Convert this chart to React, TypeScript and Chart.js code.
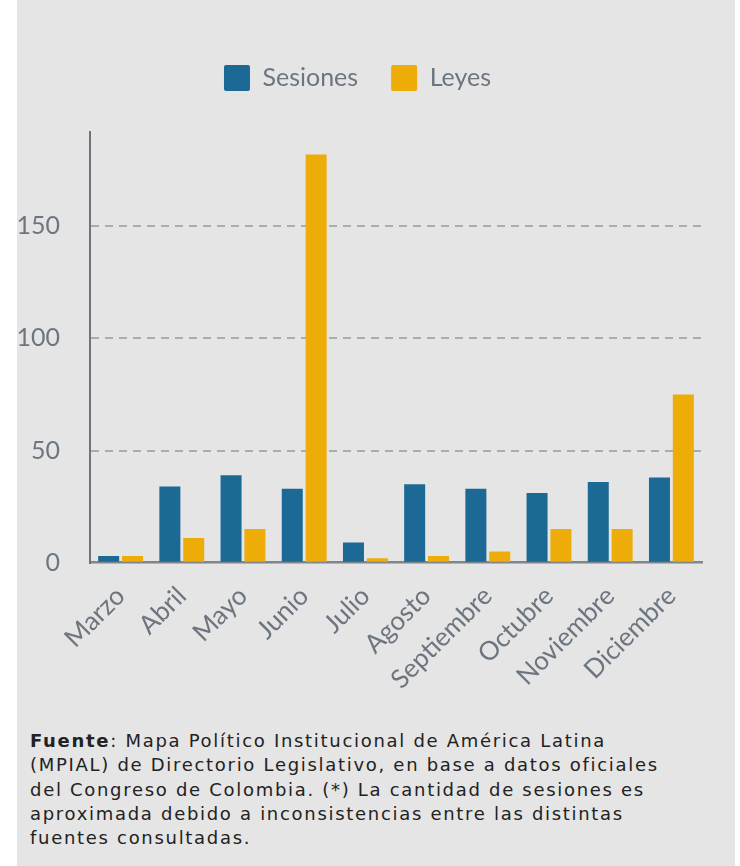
import React, { useEffect, useRef } from "react";
import { Chart, registerables } from "chart.js";

Chart.register(...registerables);

const months = [
  "Marzo",
  "Abril",
  "Mayo",
  "Junio",
  "Julio",
  "Agosto",
  "Septiembre",
  "Octubre",
  "Noviembre",
  "Diciembre",
];
const sesiones = [3, 34, 39, 33, 9, 35, 33, 31, 36, 38];
const leyes = [3, 11, 15, 182, 2, 3, 5, 15, 15, 75];
const yTickValues = [0, 50, 100, 150];
const yMax = 192;

const BLUE = "#1d6996";
const YELLOW = "#edac08";
const TEXT_GRAY = "#6d7680";

const legendSpacer = {
  id: "legendSpacer",
  beforeInit(chart: any) {
    const legend = chart.legend;
    if (!legend) return;
    const origFit = legend.fit;
    legend.fit = function () {
      origFit.call(this);
      this.height += 31;
    };
  },
  afterLayout(chart: any) {
    const legend = chart.legend;
    if (!legend) return;
    legend.left -= 2;
    legend.right -= 2;
  },
};

export default function App() {
  const canvasRef = useRef<HTMLCanvasElement | null>(null);

  useEffect(() => {
    const canvas = canvasRef.current;
    if (!canvas) return;
    const chart = new Chart(canvas, {
      type: "bar",
      data: {
        labels: months,
        datasets: [
          {
            label: "Sesiones",
            data: sesiones,
            backgroundColor: BLUE,
            borderWidth: 0,
            barPercentage: 0.88,
            categoryPercentage: 0.78,
          },
          {
            label: "Leyes",
            data: leyes,
            backgroundColor: YELLOW,
            borderWidth: 0,
            barPercentage: 0.88,
            categoryPercentage: 0.78,
          },
        ],
      },
      plugins: [legendSpacer],
      options: {
        animation: false,
        responsive: false,
        maintainAspectRatio: false,
        devicePixelRatio: 1,
        layout: { padding: { top: 0, right: 5, left: 0, bottom: 0 } },
        plugins: {
          tooltip: { enabled: false },
          legend: {
            position: "top",
            labels: {
              boxWidth: 26,
              boxHeight: 26,
              padding: 33,
              color: TEXT_GRAY,
              useBorderRadius: true,
              borderRadius: 2,
              font: { family: "Lato", size: 25 },
            },
          },
        },
        scales: {
          x: {
            grid: { display: false },
            border: { display: true, color: "#80868c", width: 2.5 },
            afterFit: (scale: any) => {
              scale.paddingLeft = 0;
              scale.paddingRight = 0;
            },
            ticks: {
              autoSkip: false,
              maxRotation: 45,
              minRotation: 45,
              padding: 10,
              color: TEXT_GRAY,
              font: { family: "Lato", size: 26 },
            },
          },
          y: {
            min: 0,
            max: yMax,
            afterBuildTicks: (scale: any) => {
              scale.ticks = yTickValues.map((v) => ({ value: v }));
            },
            afterFit: (scale: any) => {
              scale.width = 73;
            },
            grid: {
              color: (ctx: any) =>
                ctx.tick && ctx.tick.value === 0 ? "rgba(0,0,0,0)" : "#a9abae",
              lineWidth: 2,
              drawTicks: false,
            },
            border: { display: true, color: "#6d747d", width: 2, dash: [8, 6] },
            ticks: {
              padding: 30,
              color: TEXT_GRAY,
              font: { family: "Lato", size: 25 },
            },
          },
        },
      },
    });
    return () => chart.destroy();
  }, []);

  return (
    <div
      style={{
        position: "fixed",
        left: 0,
        top: 0,
        width: 740,
        height: 866,
        background: "#ffffff",
        overflow: "hidden",
      }}
    >
      <div
        style={{
          position: "absolute",
          left: 17,
          top: 0,
          width: 718,
          height: 866,
          background: "#e5e5e5",
        }}
      />
      <canvas
        ref={canvasRef}
        width={690}
        height={673}
        style={{ position: "absolute", left: 17, top: 32, width: 690, height: 673 }}
      />
      <div
        style={{
          position: "absolute",
          left: 30,
          top: 729,
          width: 705,
          fontFamily: "'DejaVu Sans', sans-serif",
          fontSize: 18,
          letterSpacing: "1.7px",
          lineHeight: "24.25px",
          color: "#222222",
          whiteSpace: "nowrap",
        }}
      >
        <b>Fuente</b>: Mapa Político Institucional de América Latina
        <br />
        (MPIAL) de Directorio Legislativo, en base a datos oficiales
        <br />
        del Congreso de Colombia. (*) La cantidad de sesiones es
        <br />
        aproximada debido a inconsistencias entre las distintas
        <br />
        fuentes consultadas.
      </div>
    </div>
  );
}
